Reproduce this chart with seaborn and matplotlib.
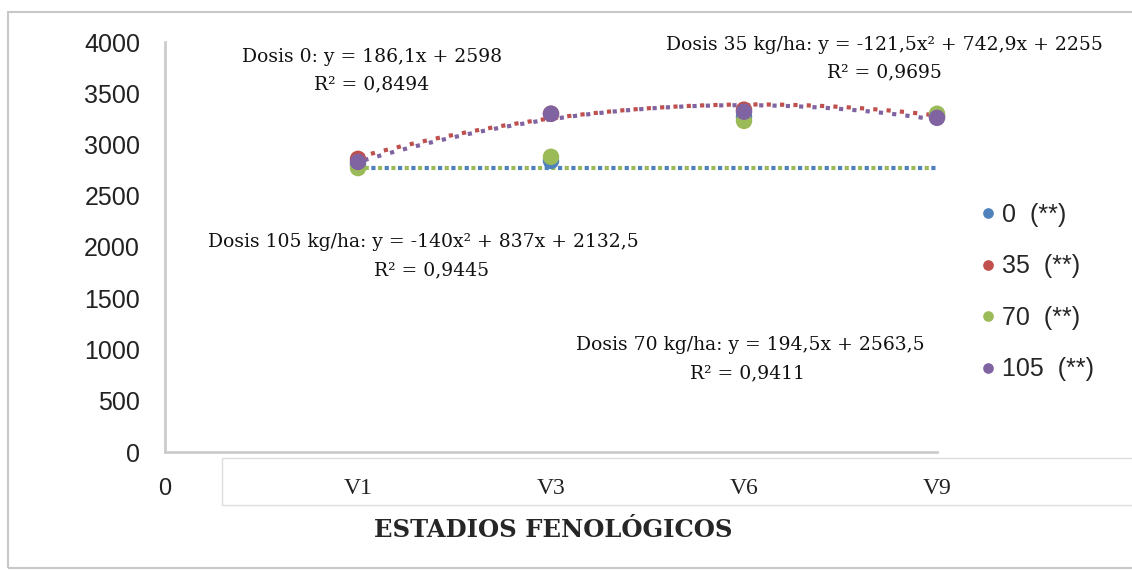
import numpy as np
import pandas as pd
import matplotlib.pyplot as plt
import matplotlib.patches as mpatches
import seaborn as sns

# Datos
estadios = ["V1", "V3", "V6", "V9"]
x_pos = [1, 2, 3, 4]
dosis_0 = [2800, 2840, 3270, 3290]
dosis_35 = [2860, 3300, 3340, 3270]
dosis_70 = [2770, 2880, 3230, 3300]
dosis_105 = [2830, 3300, 3320, 3260]
etiquetas = ["0  (**)", "35  (**)", "70  (**)", "105  (**)"]
colores = ["#4F81BD", "#C0504D", "#9BBB59", "#8064A2"]

# coeficientes de las tendencias polinómicas (según las ecuaciones)
coef_35 = [-121.5, 742.9, 2255]
coef_105 = [-140, 837, 2132.5]
nivel_lineal = 2770  # línea punteada verde tal como aparece

df = pd.DataFrame({
    "x": x_pos * 4,
    "valor": dosis_0 + dosis_35 + dosis_70 + dosis_105,
    "dosis": [e for e in etiquetas for _ in x_pos],
})

sns.set_style("white")
serif = ["DejaVu Serif"]
serif_tick = ["Liberation Serif", "DejaVu Serif"]
sans = ["Liberation Sans Narrow", "Liberation Sans", "DejaVu Sans"]

fig = plt.figure(figsize=(11.32, 5.70), dpi=100)
ax = fig.add_axes([165 / 1132, 1 - 452 / 570, (1130 - 165) / 1132, 410 / 570])

# líneas de tendencia
xs = np.linspace(1, 4, 60)
ax.plot([1, 4], [nivel_lineal, nivel_lineal], ls=(0, (1, 2.2)), lw=3, color=colores[0], zorder=1)
ax.plot([1, 4], [nivel_lineal, nivel_lineal], ls=(1.6, (1, 2.2)), lw=3, color=colores[2], zorder=1)
ax.plot(xs, np.polyval(coef_35, xs), ls=(0, (1, 2.2)), lw=3, color=colores[1], zorder=1)
ax.plot(xs, np.polyval(coef_105, xs), ls=(1.6, (1, 2.2)), lw=3, color=colores[3], zorder=1)

sns.scatterplot(data=df, x="x", y="valor", hue="dosis", palette=colores, s=140,
                edgecolor="none", ax=ax, zorder=3, legend=True)

ax.set_xlim(0, 5)
ax.set_ylim(0, 4000)
ax.set_yticks(np.arange(0, 4001, 500))
ax.set_yticklabels([str(v) for v in range(0, 4001, 500)], family=sans, fontsize=18, color="#222222")
ax.set_xticks([0] + x_pos)
ax.set_xticklabels(["0"] + estadios, family=serif_tick, fontsize=17, color="#222222")
ax.get_xticklabels()[0].set_family(sans)
ax.tick_params(axis="y", length=0, pad=18)
ax.tick_params(axis="x", length=0, pad=19)
ax.set_xlabel("")
ax.set_ylabel("")
for s in ["top", "right"]:
    ax.spines[s].set_visible(False)
for s in ["left", "bottom"]:
    ax.spines[s].set_color("#cccccc")
    ax.spines[s].set_linewidth(2)
ax.spines["bottom"].set_bounds(0, 4)

handles, labels = ax.get_legend_handles_labels()
ax.legend(handles, labels, loc="center left", bbox_to_anchor=(950 / 1132, 1 - 292 / 570),
          bbox_transform=fig.transFigure, frameon=False, prop={"family": sans, "size": 18},
          labelspacing=1.1, handletextpad=0.0, markerscale=0.65, handlelength=1.2)

# ecuaciones
kw = dict(family=serif, fontsize=13.5, ha="center", va="center", color="#111111")
fig.text(372 / 1132, 1 - 57 / 570, "Dosis 0: y = 186,1x + 2598", **kw)
fig.text(372 / 1132, 1 - 84 / 570, "R² = 0,8494", **kw)
fig.text(884 / 1132, 1 - 45 / 570, "Dosis 35 kg/ha: y = -121,5x² + 742,9x + 2255", **kw)
fig.text(884 / 1132, 1 - 72 / 570, "R² = 0,9695", **kw)
fig.text(423 / 1132, 1 - 242 / 570, "Dosis 105 kg/ha: y = -140x² + 837x + 2132,5", **kw)
fig.text(432 / 1132, 1 - 270 / 570, "R² = 0,9445", **kw)
fig.text(750 / 1132, 1 - 345 / 570, "Dosis 70 kg/ha: y = 194,5x + 2563,5", **kw)
fig.text(747 / 1132, 1 - 373 / 570, "R² = 0,9411", **kw)

fig.text(553 / 1132, 1 - 530 / 570, "ESTADIOS FENOLÓGICOS", family=serif, fontsize=17.5,
         fontweight="bold", ha="center", va="center")

# marcos grises estilo Excel
fig.add_artist(mpatches.Rectangle((8 / 1132, 2 / 570), 1140 / 1132, 556 / 570,
                                  transform=fig.transFigure, fill=False, ec="#c8c8c8", lw=1.5))
fig.add_artist(mpatches.Rectangle((222 / 1132, 1 - 505 / 570), 1000 / 1132, 47 / 570,
                                  transform=fig.transFigure, fill=False, ec="#dddddd", lw=1))

fig.savefig("out.png", dpi=100)
